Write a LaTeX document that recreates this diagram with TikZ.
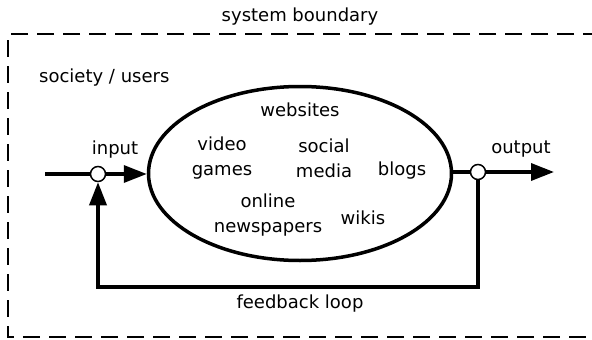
\documentclass[tikz,border=0pt]{standalone}
\usepackage{fontspec}
\setmainfont{DejaVu Sans}
\usetikzlibrary{arrows.meta,shapes.geometric}
\begin{document}
\begin{tikzpicture}[x=1pt,y=-1pt,
  lbl/.style={font=\fontsize{18}{25}\selectfont, align=center, inner sep=0pt},
  thick line/.style={line width=3.5pt},
  junction/.style={circle, draw, line width=1.5pt, fill=white, minimum size=15pt, inner sep=0pt},
  arr/.style={-{Triangle[length=23pt,width=17pt]}},
  boundary/.style={line width=2pt, dash pattern=on 17pt off 9pt}]
\useasboundingbox (0,0) rectangle (592,340);
\coordinate (b1) at (8,34);
\coordinate (b2) at (600,34);
\coordinate (b3) at (600,337);
\coordinate (b4) at (8,337);
\draw[boundary] (b2) -- (b1) -- (b4) -- (b3);
\node[lbl] (sb) at (300,17) {system boundary};
\node[lbl, anchor=west] (su) at (39,78) {society / users};
\node[ellipse, draw, line width=3.5pt, minimum width=303pt, minimum height=174pt, inner sep=0pt] (e) at (300,173.5) {};
\node[junction] (in) at (98,174) {};
\node[junction] (out) at (478,172) {};
\coordinate (src) at (45,174);
\coordinate (dst) at (554,172);
\coordinate (fr) at (478,287);
\coordinate (fl) at (98,287);
\draw[thick line] (src) -- (in.west);
\draw[thick line, arr] (in.east) -- (e.west |- in.east);
\draw[thick line] (e.east |- out.west) -- (out.west);
\draw[thick line, arr] (out.east) -- (dst);
\draw[thick line, arr, line join=miter] (out.south) -- (fr) -- (fl) -- (in.south);
\node[lbl] (il) at (115,150) {input};
\node[lbl] (ol) at (521,149) {output};
\node[lbl] (fb) at (300,304) {feedback loop};
\node[lbl] (w) at (300,110) {websites};
\node[lbl] (vg) at (222,158) {video\\games};
\node[lbl] (sm) at (324,158) {social\\media};
\node[lbl] (bl) at (402,171) {blogs};
\node[lbl] (on) at (268,215) {online\\newspapers};
\node[lbl] (wk) at (363,218) {wikis};
\end{tikzpicture}
\end{document}
